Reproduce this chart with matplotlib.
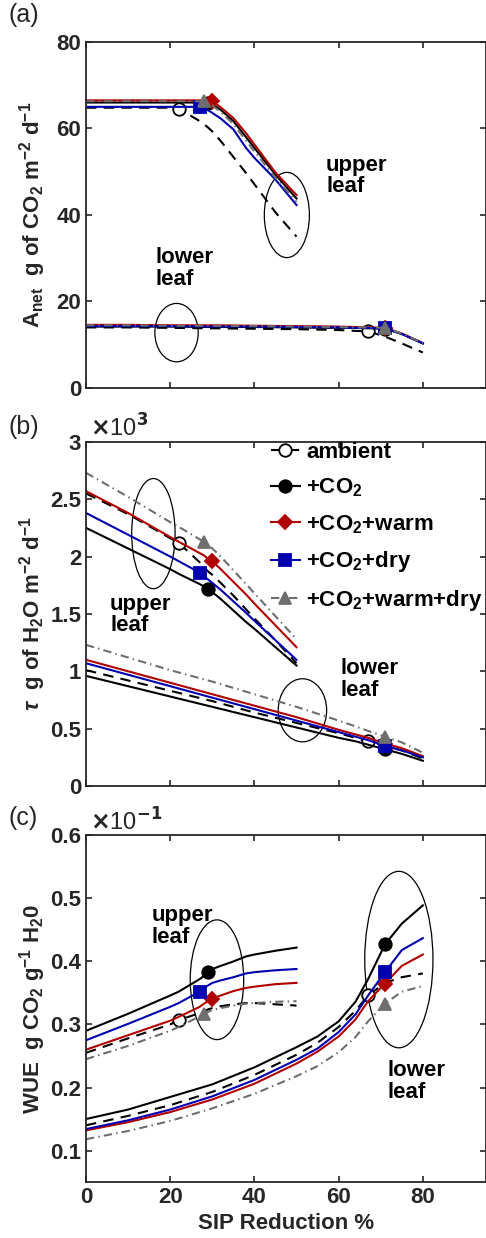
import numpy as np
import matplotlib
matplotlib.use('Agg')
import matplotlib.pyplot as plt
from matplotlib.patches import Ellipse
from matplotlib.lines import Line2D

plt.rcParams['font.family'] = ['Liberation Sans', 'DejaVu Sans']
plt.rcParams['font.weight'] = 'bold'
plt.rcParams['axes.labelweight'] = 'bold'
plt.rcParams['mathtext.fontset'] = 'custom'
plt.rcParams['mathtext.rm'] = 'Liberation Sans:bold'
plt.rcParams['mathtext.bf'] = 'Liberation Sans:bold'
plt.rcParams['mathtext.it'] = 'Liberation Sans:italic'
plt.rcParams['mathtext.default'] = 'rm'

# scenarios
names = ['ambient', '+CO$_2$', '+CO$_2$+warm', '+CO$_2$+dry', '+CO$_2$+warm+dry']
colors = ['black', 'black', '#b00000', '#0000b0', '#6e6e6e']
markers = ['o', 'o', 'D', 's', '^']
# marker x (SIP reduction %) for upper and lower leaf
mark_up = [22, 29, 30, 27, 28]
mark_lo = [67, 71, 71, 71, 71]

x_up = [0, 10, 20, 22, 27, 28, 29, 30, 32, 35, 38, 40, 45, 50]
x_lo = [0, 10, 20, 30, 40, 50, 55, 60, 64, 67, 71, 75, 80]

# (a) Anet, upper leaf
a_up_amb = [64.8, 64.8, 64.8, 64.6, 61.7, 61.0, 60.2, 59.3, 57.1, 53.4, 49.7, 47.1, 40.6, 35.0]
a_up_co2 = [66.0, 66.0, 66.0, 66.0, 66.0, 66.0, 66.0, 65.6, 64.3, 61.7, 58.0, 55.5, 49.3, 43.8]
a_up_warm = [66.5, 66.5, 66.5, 66.5, 66.5, 66.5, 66.5, 66.3, 64.9, 62.4, 58.9, 56.3, 49.8, 44.6]
a_up_dry = [65.0, 65.0, 65.0, 65.0, 65.0, 64.7, 64.2, 63.6, 62.3, 59.8, 55.5, 53.2, 48.2, 42.3]
a_up_wd = [66.3, 66.3, 66.3, 66.3, 66.3, 66.3, 65.9, 65.3, 63.8, 61.0, 57.2, 54.7, 48.6, 43.0]
# (a) Anet, lower leaf
a_lo_amb = [14.0, 14.0, 13.9, 13.8, 13.7, 13.6, 13.5, 13.4, 13.2, 13.1, 11.9, 10.3, 8.2]
a_lo_co2 = [14.2, 14.2, 14.2, 14.1, 14.1, 14.0, 13.95, 13.9, 13.9, 13.8, 13.7, 12.5, 10.3]
a_lo_warm = [14.6, 14.6, 14.5, 14.5, 14.4, 14.3, 14.25, 14.2, 14.1, 14.0, 13.9, 12.6, 10.4]
a_lo_dry = [14.3, 14.3, 14.3, 14.2, 14.2, 14.1, 14.05, 14.0, 13.9, 13.9, 13.8, 12.5, 10.3]
a_lo_wd = [14.5, 14.5, 14.4, 14.4, 14.3, 14.2, 14.15, 14.1, 14.0, 14.0, 13.9, 12.6, 10.4]

# (b) transpiration (x10^3), upper leaf
b_up_amb = [2.55, 2.37, 2.16, 2.12, 1.95, 1.91, 1.87, 1.84, 1.77, 1.66, 1.54, 1.46, 1.27, 1.07]
b_up_co2 = [2.25, 2.07, 1.89, 1.85, 1.76, 1.74, 1.72, 1.69, 1.63, 1.53, 1.43, 1.37, 1.21, 1.05]
b_up_warm = [2.57, 2.38, 2.17, 2.13, 2.03, 2.01, 1.98, 1.96, 1.89, 1.78, 1.67, 1.59, 1.40, 1.21]
b_up_dry = [2.38, 2.19, 2.00, 1.96, 1.86, 1.83, 1.80, 1.77, 1.71, 1.61, 1.51, 1.44, 1.27, 1.10]
b_up_wd = [2.73, 2.52, 2.30, 2.26, 2.15, 2.13, 2.10, 2.07, 2.00, 1.88, 1.76, 1.68, 1.48, 1.28]
# (b) transpiration (x10^3), lower leaf
b_lo_amb = [1.01, 0.92, 0.83, 0.74, 0.64, 0.55, 0.505, 0.46, 0.42, 0.39, 0.35, 0.31, 0.24]
b_lo_co2 = [0.96, 0.87, 0.78, 0.69, 0.60, 0.51, 0.465, 0.42, 0.39, 0.36, 0.32, 0.28, 0.22]
b_lo_warm = [1.10, 1.00, 0.90, 0.80, 0.70, 0.60, 0.545, 0.49, 0.45, 0.42, 0.37, 0.33, 0.26]
b_lo_dry = [1.07, 0.97, 0.87, 0.77, 0.67, 0.57, 0.52, 0.47, 0.43, 0.40, 0.35, 0.31, 0.25]
b_lo_wd = [1.23, 1.12, 1.01, 0.91, 0.80, 0.69, 0.63, 0.57, 0.52, 0.48, 0.43, 0.38, 0.29]

# (c) WUE (x10^-1), upper leaf
c_up_amb = [0.255, 0.278, 0.300, 0.307, 0.318, 0.321, 0.324, 0.326, 0.329, 0.332, 0.334, 0.334, 0.332, 0.330]
c_up_co2 = [0.290, 0.317, 0.346, 0.352, 0.372, 0.377, 0.383, 0.388, 0.393, 0.400, 0.408, 0.411, 0.417, 0.422]
c_up_warm = [0.260, 0.283, 0.306, 0.312, 0.328, 0.333, 0.337, 0.341, 0.346, 0.353, 0.358, 0.360, 0.364, 0.366]
c_up_dry = [0.275, 0.301, 0.328, 0.334, 0.352, 0.358, 0.362, 0.366, 0.370, 0.375, 0.381, 0.383, 0.386, 0.388]
c_up_wd = [0.245, 0.266, 0.290, 0.296, 0.313, 0.316, 0.320, 0.323, 0.326, 0.330, 0.333, 0.334, 0.336, 0.337]
# (c) WUE (x10^-1), lower leaf
c_lo_amb = [0.140, 0.155, 0.172, 0.193, 0.220, 0.252, 0.271, 0.296, 0.322, 0.346, 0.366, 0.375, 0.381]
c_lo_co2 = [0.150, 0.165, 0.185, 0.205, 0.232, 0.264, 0.281, 0.305, 0.336, 0.372, 0.427, 0.460, 0.489]
c_lo_warm = [0.132, 0.145, 0.161, 0.181, 0.206, 0.238, 0.257, 0.281, 0.308, 0.337, 0.365, 0.393, 0.411]
c_lo_dry = [0.134, 0.148, 0.165, 0.186, 0.212, 0.244, 0.262, 0.288, 0.316, 0.346, 0.383, 0.418, 0.437]
c_lo_wd = [0.118, 0.131, 0.147, 0.167, 0.190, 0.218, 0.234, 0.256, 0.280, 0.305, 0.333, 0.352, 0.361]

panels = [
    ([a_up_amb, a_up_co2, a_up_warm, a_up_dry, a_up_wd],
     [a_lo_amb, a_lo_co2, a_lo_warm, a_lo_dry, a_lo_wd]),
    ([b_up_amb, b_up_co2, b_up_warm, b_up_dry, b_up_wd],
     [b_lo_amb, b_lo_co2, b_lo_warm, b_lo_dry, b_lo_wd]),
    ([c_up_amb, c_up_co2, c_up_warm, c_up_dry, c_up_wd],
     [c_lo_amb, c_lo_co2, c_lo_warm, c_lo_dry, c_lo_wd]),
]

ink = '#262626'
dash = (5, 3.5)
dashdot = (4, 2, 0.7, 2)


def style_of(i):
    if i == 0:
        return dict(dashes=dash)
    if i == 4:
        return dict(dashes=dashdot)
    return dict(linestyle='-')


def marker_kw(i):
    face = 'white' if i == 0 else colors[i]
    return dict(marker=markers[i], ms=9 if markers[i] != 'D' else 7.5,
                mfc=face, mec=colors[i], mew=1.3)


fig = plt.figure(figsize=(4.86, 12.38), dpi=100)
rects = [[0.177, 0.6866, 0.823, 0.2795],
         [0.177, 0.3651, 0.823, 0.2780],
         [0.177, 0.0452, 0.823, 0.2800]]
axes = [fig.add_axes(r) for r in rects]

for ax, (ups, los) in zip(axes, panels):
    for i in range(5):
        for xs, ys, mx in ((x_up, ups[i], mark_up[i]), (x_lo, los[i], mark_lo[i])):
            ax.plot(xs, ys, color=colors[i], lw=1.5, **style_of(i))
            my = np.interp(mx, xs, ys)
            ax.plot([mx], [my], ls='none', **marker_kw(i))
    ax.set_xlim(0, 95)
    ax.set_xticks([0, 20, 40, 60, 80])
    ax.tick_params(direction='in', top=True, right=True, length=4, width=1.2,
                   labelsize=16, colors=ink)
    for sp in ax.spines.values():
        sp.set_linewidth(1.3)
        sp.set_color(ink)
    for lab in ax.get_xticklabels() + ax.get_yticklabels():
        lab.set_fontweight('bold')

ax_a, ax_b, ax_c = axes

# (a)
ax_a.set_ylim(0, 80)
ax_a.set_yticks([0, 20, 40, 60, 80])
ax_a.set_xticklabels([])
ax_a.set_ylabel(r'A$_{net}$  g of CO$_2$ m$^{-2}$ d$^{-1}$', fontsize=16,
                fontweight='bold', color=ink)
ax_a.add_patch(Ellipse((47.7, 40), 10.7, 19.7, fill=False, lw=0.9, color='black'))
ax_a.add_patch(Ellipse((21.5, 12.8), 10.3, 13.5, fill=False, lw=0.9, color='black'))
ax_a.text(57, 49, 'upper\nleaf', fontsize=16, va='center', ha='left', linespacing=1.05)
ax_a.text(16.5, 27.6, 'lower\nleaf', fontsize=16, va='center', ha='left', linespacing=1.05)

# (b)
ax_b.set_ylim(0, 3)
ax_b.set_yticks([0, 0.5, 1, 1.5, 2, 2.5, 3])
ax_b.set_yticklabels(['0', '0.5', '1', '1.5', '2', '2.5', '3'])
ax_b.set_xticklabels([])
ax_b.set_ylabel(r'$\mathit{\tau}$  g of H$_2$O m$^{-2}$ d$^{-1}$', fontsize=16,
                fontweight='bold', color=ink)
ax_b.add_patch(Ellipse((16, 2.2), 10.3, 0.96, fill=False, lw=0.9, color='black'))
ax_b.add_patch(Ellipse((51.4, 0.66), 11.5, 0.55, fill=False, lw=0.9, color='black'))
ax_b.text(5.7, 1.49, 'upper\nleaf', fontsize=16, va='center', ha='left', linespacing=1.05)
ax_b.text(60.4, 0.93, 'lower\nleaf', fontsize=16, va='center', ha='left', linespacing=1.05)
ax_b.text(0.01, 1.0, r'$\times$10$^{3}$', transform=ax_b.transAxes, fontsize=17,
          fontweight='normal', math_fontfamily='dejavusans',
          va='bottom', ha='left', color=ink)
handles = [Line2D([], [], color=colors[i], lw=1.5, **style_of(i), **marker_kw(i))
           for i in range(5)]
ax_b.legend(handles, names, loc='upper left', bbox_to_anchor=(0.462, 1.0),
            frameon=False, prop={'weight': 'bold', 'size': 16}, handlelength=1.3,
            handletextpad=0.3, labelspacing=0.62, borderpad=0, borderaxespad=0)

# (c)
ax_c.set_ylim(0.05, 0.6)
ax_c.set_yticks([0.1, 0.2, 0.3, 0.4, 0.5, 0.6])
ax_c.set_ylabel(r'WUE  g CO$_2$ g$^{-1}$ H$_2$0', fontsize=16,
                fontweight='bold', color=ink)
ax_c.set_xlabel('SIP Reduction %', fontsize=16, fontweight='bold', color=ink)
ax_c.add_patch(Ellipse((31.1, 0.371), 12.7, 0.19, fill=False, lw=0.9, color='black'))
ax_c.add_patch(Ellipse((74.3, 0.403), 16.2, 0.28, fill=False, lw=0.9, color='black'))
ax_c.text(15.5, 0.456, 'upper\nleaf', fontsize=16, va='center', ha='left', linespacing=1.05)
ax_c.text(71.5, 0.209, 'lower\nleaf', fontsize=16, va='center', ha='left', linespacing=1.05)
ax_c.text(0.01, 1.0, r'$\times$10$^{-1}$', transform=ax_c.transAxes, fontsize=17,
          fontweight='normal', math_fontfamily='dejavusans',
          va='bottom', ha='left', color=ink)

for ax in axes:
    ax.yaxis.set_label_coords(-0.095, 0.5)

# panel letters
for lab, yy in (('(a)', 15), ('(b)', 427), ('(c)', 818)):
    fig.text(8 / 486, 1 - yy / 1238, lab, fontsize=18, fontweight='normal',
             va='center', ha='left', color=ink)

fig.savefig('out.png', dpi=100)
